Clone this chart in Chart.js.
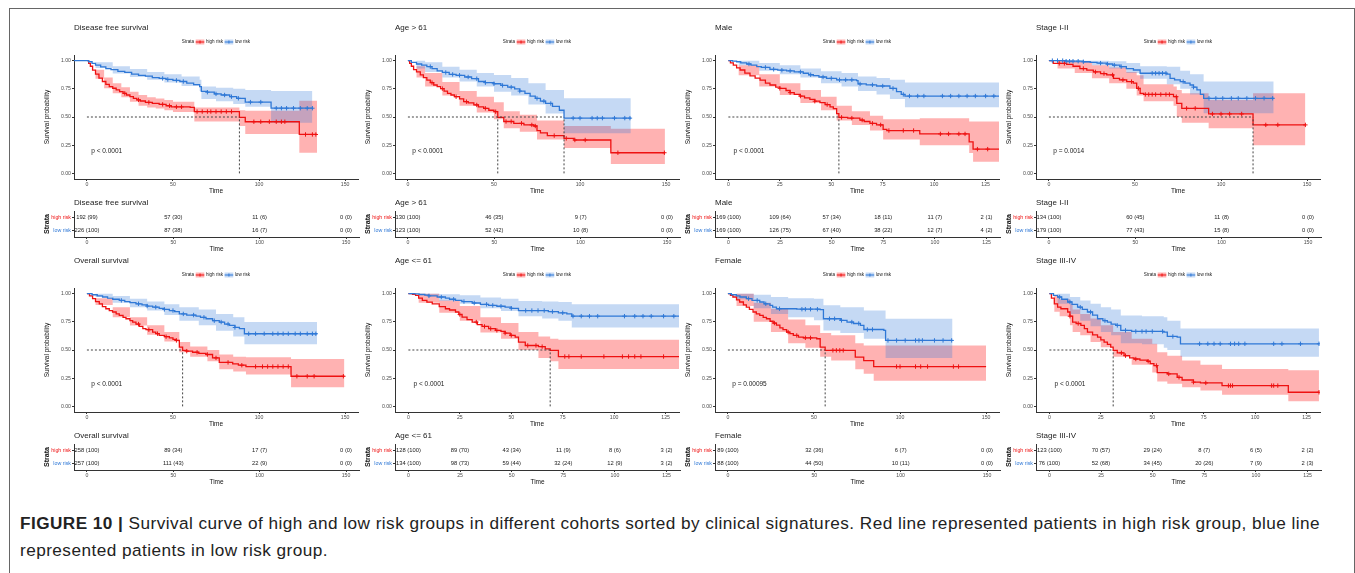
<!DOCTYPE html>
<html>
<head>
<meta charset="utf-8">
<script src="https://cdn.jsdelivr.net/npm/chart.js@4.4.0/dist/chart.umd.min.js"></script>
<style>
  body { margin: 0; background: #fff; width: 1355px; height: 573px; overflow: hidden; position: relative; font-family: 'Liberation Sans', Arial, sans-serif; }
  #frame { position: absolute; left: 9px; top: 8px; width: 1344px; height: 620px; border: 1px solid #666; border-bottom: none; }
  canvas { position: absolute; }
  #caption { position: absolute; left: 20px; top: 510px; font-size: 17.2px; letter-spacing: 0.45px; line-height: 26.5px; color: #222; white-space: nowrap; }
</style>
</head>
<body>
<div id="frame"></div>
<div id="caption"><b>FIGURE 10 |</b> Survival curve of high and low risk groups in different cohorts sorted by clinical signatures. Red line represented patients in high risk group, blue line<br>represented patients in low risk group.</div>
<script>
// axis ticks and limits
const ticks150 = [0, 50, 100, 150];
const ticks125 = [0, 25, 50, 75, 100, 125];
const range150 = [-7.5, 157.5];
const range125 = [-6.5, 131.5];
const yTicks = [0, 0.25, 0.5, 0.75, 1];
const groups = ['high risk', 'low risk'];
const pvalPos = [2.5, 0.2];

// curves are [time, survival], bands are [time, lower, upper]

// Disease free survival
const dfsHigh = [[0,1],[1,0.975],[2,0.95],[3.3,0.915],[5,0.88],[7,0.845],[9,0.815],[11,0.79],[13,0.77],[15,0.755],[17,0.74],[19,0.725],[21,0.71],[23,0.695],[25,0.68],[27,0.665],[29,0.652],[31,0.642],[34,0.63],[38,0.62],[42,0.612],[46,0.6],[49,0.59],[60,0.585],[62.4,0.548],[88.6,0.497],[92,0.458],[123.4,0.345],[133.7,0.345]];
const dfsHighBand = [[0,1,1],[5,0.84,0.92],[10,0.755,0.85],[15,0.71,0.8],[20,0.675,0.765],[25,0.635,0.725],[30,0.6,0.695],[35,0.585,0.675],[40,0.575,0.665],[45,0.56,0.65],[50,0.545,0.635],[62.4,0.46,0.585],[88.6,0.42,0.56],[92,0.35,0.555],[123.4,0.183,0.645],[133.7,0.183,0.645]];
const dfsHighCens = [22,30,36,44,48,52,55,64,67,70,72,75,78,81,84,97,101,106,110,113,115,127,131,133];
const dfsLow = [[-7.5,1],[0,1],[1,0.99],[3,0.975],[5,0.96],[8,0.945],[11,0.93],[14,0.92],[18,0.905],[22,0.895],[26,0.88],[30,0.87],[34,0.862],[38,0.85],[42,0.842],[46,0.833],[50,0.825],[54,0.815],[58,0.8],[62,0.787],[65.5,0.77],[66.5,0.728],[70,0.72],[74,0.705],[78,0.695],[83,0.68],[87,0.666],[92,0.632],[107,0.578],[131,0.578]];
const dfsLowBand = [[0,1,1],[5,0.935,0.985],[15,0.885,0.95],[25,0.855,0.925],[35,0.83,0.9],[45,0.805,0.88],[55,0.775,0.86],[65.5,0.73,0.83],[66.5,0.66,0.77],[75,0.64,0.76],[85,0.615,0.75],[92,0.59,0.74],[107,0.45,0.73],[131,0.45,0.73]];
const dfsLowCens = [44,47,52,56,70,75,80,84,88,95,101,110,113,116,120,124,128,131];
const dfsRiskHigh = ['192 (99)', '57 (30)', '11 (6)', '0 (0)'];
const dfsRiskLow = ['226 (100)', '87 (38)', '16 (7)', '0 (0)'];
const dfsMedians = [88.6];

// Age > 61
const ageOldHigh = [[0,1],[1,0.975],[2,0.95],[3.3,0.92],[5,0.9],[7.2,0.873],[9,0.85],[11,0.828],[13,0.805],[15,0.784],[17,0.77],[19,0.752],[21,0.73],[23,0.71],[25,0.695],[27,0.68],[30,0.66],[32.4,0.636],[35,0.625],[38.3,0.607],[41,0.59],[44,0.577],[47,0.56],[50,0.547],[52.2,0.497],[55.7,0.46],[61.5,0.444],[67.4,0.43],[73.2,0.42],[75,0.38],[77,0.36],[81,0.335],[90.7,0.31],[96.5,0.296],[117.9,0.183],[149.3,0.183]];
const ageOldHighBand = [[0,1,1],[5,0.85,0.95],[10,0.77,0.89],[20,0.69,0.81],[30,0.6,0.73],[40,0.54,0.68],[50,0.48,0.63],[55.7,0.4,0.55],[65,0.37,0.52],[75,0.3,0.47],[90.7,0.225,0.42],[117.9,0.083,0.395],[149.3,0.083,0.395]];
const ageOldHighCens = [14,20,28,34,40,45,51,57,60,66,72,74,85,92,97,103,122,149];
const ageOldLow = [[0,1],[2,0.985],[5,0.97],[8,0.96],[11,0.947],[14,0.93],[17,0.91],[20,0.895],[24,0.878],[28,0.87],[33,0.855],[37,0.84],[41,0.815],[45,0.805],[50,0.795],[54,0.78],[58,0.765],[62,0.75],[65,0.73],[68,0.71],[71,0.685],[74,0.665],[77,0.64],[80,0.62],[84,0.595],[88,0.56],[90.7,0.49],[129.5,0.49]];
const ageOldLowBand = [[0,1,1],[5,0.93,1],[10,0.9,0.985],[20,0.85,0.945],[30,0.815,0.92],[40,0.77,0.89],[50,0.725,0.873],[60,0.69,0.845],[70,0.61,0.8],[80,0.53,0.74],[90.7,0.355,0.666],[129.5,0.355,0.666]];
const ageOldLowCens = [13,22,26,30,35,40,45,50,55,60,65,75,79,83,96,100,107,110,113,120,126,129];
const ageOldRiskHigh = ['130 (100)', '46 (35)', '9 (7)', '0 (0)'];
const ageOldRiskLow = ['123 (100)', '52 (42)', '10 (8)', '0 (0)'];
const ageOldMedians = [52.2, 90.7];

// Male
const maleHigh = [[0,1],[1,0.98],[2.4,0.96],[4,0.935],[5.7,0.917],[8,0.89],[10.5,0.864],[13,0.845],[15.4,0.828],[18,0.8],[20.2,0.784],[23,0.765],[25,0.754],[28,0.735],[30,0.716],[32,0.7],[34.8,0.686],[37,0.67],[39.6,0.657],[42,0.64],[44.5,0.627],[47,0.61],[49.4,0.59],[51,0.575],[52.6,0.53],[53.7,0.497],[58,0.49],[63.9,0.473],[66,0.46],[68.8,0.444],[72,0.43],[75.2,0.39],[77,0.38],[93,0.35],[117,0.28],[118.9,0.215],[131.5,0.215]];
const maleHighBand = [[0,1,1],[5,0.87,0.96],[15,0.77,0.88],[25,0.695,0.8],[35,0.625,0.74],[45,0.56,0.68],[52.6,0.47,0.6],[60,0.43,0.55],[68.8,0.38,0.51],[75.2,0.3,0.48],[93,0.25,0.49],[117,0.18,0.46],[118.9,0.104,0.46],[131.5,0.104,0.46]];
const maleHighCens = [25,30,35,42,48,55,60,65,70,74,78,85,90,103,107,112,115,121,126];
const maleLow = [[0,1],[2,0.995],[4,0.99],[6,0.98],[8.9,0.97],[11,0.96],[13.8,0.947],[16,0.94],[20.2,0.923],[24,0.915],[28.3,0.91],[32,0.9],[36.4,0.888],[39,0.875],[41.3,0.867],[44,0.855],[47.7,0.843],[52.6,0.83],[62.3,0.822],[63,0.793],[67,0.785],[72,0.775],[78.5,0.754],[81.7,0.725],[84,0.7],[85.8,0.686],[131.5,0.686]];
const maleLowBand = [[0,1,1],[5,0.96,1],[15,0.91,0.98],[25,0.88,0.96],[35,0.85,0.93],[45,0.8,0.905],[55,0.77,0.89],[63,0.73,0.86],[72,0.7,0.845],[78.5,0.66,0.83],[85.8,0.586,0.805],[131.5,0.586,0.805]];
const maleLowCens = [10,18,22,26,30,35,40,46,50,54,57,60,64,70,75,80,85,88,92,95,104,108,112,116,120,125,129];
const maleRiskHigh = ['169 (100)', '109 (64)', '57 (34)', '18 (11)', '11 (7)', '2 (1)'];
const maleRiskLow = ['169 (100)', '126 (75)', '67 (40)', '38 (22)', '12 (7)', '4 (2)'];
const maleMedians = [53.7];

// Stage I-II
const stageEarlyHigh = [[0,1],[2.5,0.976],[10.3,0.967],[14,0.95],[18,0.93],[22,0.915],[25.8,0.9],[30,0.885],[33.6,0.873],[37.5,0.843],[41,0.83],[45.2,0.814],[49,0.8],[51,0.754],[53,0.71],[55,0.7],[72.4,0.68],[74.3,0.62],[77.2,0.577],[92.8,0.527],[118.6,0.43],[149,0.43]];
const stageEarlyHighBand = [[0,1,1],[5,0.93,1],[15,0.89,0.99],[25,0.843,0.96],[35,0.8,0.94],[45,0.75,0.9],[51,0.69,0.87],[55,0.64,0.79],[72.4,0.6,0.77],[74.3,0.5,0.74],[77.2,0.45,0.71],[92.8,0.4,0.65],[118.6,0.25,0.71],[149,0.25,0.71]];
const stageEarlyHighCens = [6,9,20,27,32,37,43,48,52,56,58,60,62,65,68,70,74,80,85,95,100,105,112,126,133,149];
const stageEarlyLow = [[0,1],[10,0.995],[20,0.99],[24,0.985],[28,0.978],[33.6,0.97],[37,0.96],[41.3,0.947],[45,0.93],[49.1,0.917],[53,0.888],[68.5,0.88],[70.4,0.843],[73,0.83],[76.3,0.814],[79,0.8],[82,0.784],[84,0.765],[86,0.74],[88,0.7],[89.9,0.666],[130.6,0.666]];
const stageEarlyLowBand = [[0,1,1],[10,0.98,1],[25,0.96,1],[35,0.93,0.995],[45,0.89,0.98],[53,0.84,0.95],[68.5,0.79,0.945],[76.3,0.75,0.91],[82,0.7,0.88],[89.9,0.533,0.814],[130.6,0.533,0.814]];
const stageEarlyLowCens = [2,5,8,10,12,14,17,20,30,34,38,42,60,62,64,66,68,78,84,93,97,101,106,110,115,120,125,130];
const stageEarlyRiskHigh = ['134 (100)', '60 (45)', '11 (8)', '0 (0)'];
const stageEarlyRiskLow = ['179 (100)', '77 (43)', '15 (8)', '0 (0)'];
const stageEarlyMedians = [118.6];

// Overall survival
const osHigh = [[0,1],[1.5,0.98],[3.3,0.955],[5,0.93],[7.2,0.91],[9,0.885],[11,0.866],[13,0.85],[14.9,0.837],[17,0.82],[18.8,0.807],[21,0.79],[22.7,0.777],[25,0.76],[26.6,0.748],[28.5,0.73],[30.4,0.709],[32.5,0.69],[34.3,0.68],[38.2,0.659],[40,0.645],[42,0.629],[45,0.618],[47.9,0.608],[50,0.595],[51.7,0.585],[53.7,0.525],[55.6,0.497],[58,0.49],[61.4,0.48],[65,0.47],[69.2,0.46],[73,0.43],[76.9,0.39],[84.7,0.377],[88,0.365],[92.4,0.353],[118.6,0.267],[149.6,0.267]];
const osHighBand = [[0,1,1],[5,0.9,0.96],[15,0.79,0.88],[25,0.718,0.79],[35,0.635,0.72],[45,0.575,0.66],[53.7,0.48,0.57],[60,0.44,0.53],[70,0.4,0.5],[76.9,0.33,0.46],[85,0.31,0.44],[92.4,0.282,0.436],[118.6,0.17,0.42],[149.6,0.17,0.42]];
const osHighCens = [30,36,41,46,52,58,64,70,75,82,90,98,102,105,108,111,114,117,122,128,132,149];
const osLow = [[0,1],[3,0.99],[6,0.98],[9.1,0.97],[12,0.96],[15,0.95],[18.8,0.94],[22,0.93],[25,0.92],[28.5,0.91],[32,0.9],[35,0.89],[38.2,0.88],[42,0.87],[45,0.86],[47.9,0.85],[51,0.84],[53.7,0.82],[58,0.81],[63.4,0.8],[66,0.79],[69.2,0.777],[73,0.76],[76.9,0.748],[80,0.73],[82.8,0.718],[86,0.7],[88.6,0.69],[91.5,0.644],[133.7,0.644]];
const osLowBand = [[0,1,1],[5,0.97,1],[15,0.92,0.98],[25,0.88,0.955],[35,0.85,0.93],[45,0.81,0.905],[53.7,0.76,0.88],[65,0.72,0.86],[75,0.67,0.82],[85,0.62,0.79],[91.5,0.55,0.748],[133.7,0.55,0.748]];
const osLowCens = [20,30,35,40,45,50,56,62,68,74,78,82,86,94,98,103,108,111,114,117,121,124,128,131,133];
const osRiskHigh = ['258 (100)', '89 (34)', '17 (7)', '0 (0)'];
const osRiskLow = ['257 (100)', '111 (43)', '22 (9)', '0 (0)'];
const osMedians = [55.6];

// Age <= 61
const ageYoungHigh = [[0,1],[2,0.993],[3.5,0.985],[5,0.96],[6.8,0.94],[9,0.925],[11.6,0.91],[15,0.885],[18,0.866],[20,0.855],[22.9,0.837],[24.5,0.815],[26.1,0.792],[28.5,0.77],[31,0.748],[33.5,0.725],[35.8,0.709],[39,0.69],[42.3,0.674],[45,0.665],[47,0.65],[49.5,0.63],[51.9,0.614],[53.5,0.57],[56.8,0.54],[63.2,0.53],[66.5,0.51],[68.9,0.496],[72.9,0.442],[131.5,0.442]];
const ageYoungHighBand = [[0,1,1],[5,0.92,1],[15,0.83,0.94],[25,0.76,0.89],[35,0.655,0.79],[45,0.6,0.74],[53.5,0.5,0.66],[63.2,0.43,0.62],[68.9,0.4,0.6],[72.9,0.332,0.59],[131.5,0.332,0.59]];
const ageYoungHighCens = [25,33,37,40,43,47,50,58,62,65,76,78,84,95,104,107,110,113,124];
const ageYoungLow = [[0,1],[3,0.997],[5.2,0.994],[8,0.987],[10,0.98],[14,0.97],[18,0.96],[20,0.95],[22.9,0.94],[26,0.93],[31,0.917],[35,0.905],[39,0.896],[43,0.888],[47,0.88],[50,0.87],[53.5,0.85],[68,0.84],[72.9,0.83],[77,0.82],[79.4,0.8],[131.5,0.8]];
const ageYoungLowBand = [[0,1,1],[5,0.98,1],[15,0.935,0.995],[25,0.91,0.985],[35,0.87,0.965],[45,0.845,0.955],[53.5,0.8,0.935],[65,0.78,0.93],[72.9,0.76,0.925],[79.4,0.7,0.905],[131.5,0.7,0.905]];
const ageYoungLowCens = [10,16,22,27,32,38,41,45,50,57,60,63,66,70,75,80,84,88,92,105,110,114,118,124,129];
const ageYoungRiskHigh = ['128 (100)', '89 (70)', '43 (34)', '11 (9)', '8 (6)', '3 (2)'];
const ageYoungRiskLow = ['134 (100)', '98 (73)', '59 (44)', '32 (24)', '12 (9)', '3 (2)'];
const ageYoungMedians = [68.9];

// Female
const femaleHigh = [[0,1],[1.5,0.985],[2.9,0.97],[5,0.945],[6.8,0.926],[9,0.9],[10.7,0.88],[12.5,0.86],[14.6,0.837],[16.5,0.82],[18.5,0.807],[20.5,0.79],[22.4,0.777],[24.5,0.755],[26.3,0.739],[28.2,0.72],[30.2,0.697],[32,0.68],[34.1,0.659],[36,0.645],[38,0.629],[41,0.615],[43.8,0.608],[51.6,0.6],[53.6,0.525],[56.5,0.497],[74,0.436],[78.9,0.406],[84.7,0.353],[150,0.353]];
const femaleHighBand = [[0,1,1],[5,0.89,1],[15,0.75,0.92],[25,0.66,0.866],[35,0.56,0.77],[45,0.52,0.72],[53.6,0.44,0.65],[60,0.406,0.63],[74,0.33,0.56],[78.9,0.29,0.54],[84.7,0.228,0.54],[150,0.228,0.54]];
const femaleHighCens = [27,35,40,45,48,61,63,65,67,98,100,109,112,116,131,134];
const femaleLow = [[0,1],[2,0.99],[4.9,0.98],[7,0.97],[10.7,0.955],[14,0.94],[18.5,0.926],[21,0.91],[24.4,0.896],[26,0.88],[28.2,0.866],[40,0.862],[53.6,0.858],[55.5,0.777],[65.3,0.763],[69.2,0.748],[73,0.735],[77,0.718],[79,0.682],[90.6,0.674],[91.6,0.585],[130.5,0.585]];
const femaleLowBand = [[0,1,1],[5,0.95,1],[15,0.87,0.99],[25,0.82,0.97],[35,0.79,0.96],[50,0.763,0.955],[55.5,0.674,0.896],[65.3,0.65,0.88],[79,0.6,0.85],[91.6,0.43,0.777],[130.5,0.43,0.777]];
const femaleLowCens = [12,17,22,30,43,45,48,52,59,62,66,72,76,81,84,93,98,103,109,111,113,120,125,130];
const femaleRiskHigh = ['89 (100)', '32 (36)', '6 (7)', '0 (0)'];
const femaleRiskLow = ['88 (100)', '44 (50)', '10 (11)', '0 (0)'];
const femaleMedians = [56.5];

// Stage III-IV
const stageLateHigh = [[0,1],[1,0.96],[2.4,0.91],[4,0.88],[5.6,0.866],[8.9,0.837],[10,0.8],[11.3,0.748],[13,0.735],[15.3,0.718],[17,0.69],[18.5,0.659],[21,0.635],[23.4,0.614],[25,0.59],[26.6,0.57],[28.2,0.55],[29.8,0.525],[31,0.496],[33,0.475],[36.3,0.45],[39,0.43],[41.1,0.42],[44,0.41],[47.6,0.4],[49,0.38],[50.8,0.362],[52.4,0.3],[57.3,0.288],[62.1,0.258],[64.5,0.234],[70,0.215],[73.4,0.208],[83.9,0.184],[116.1,0.125],[131,0.125]];
const stageLateHighBand = [[0,1,1],[2.4,0.84,0.98],[5,0.8,0.95],[10,0.72,0.91],[11.3,0.66,0.86],[15,0.63,0.82],[20,0.57,0.78],[25,0.525,0.72],[31,0.44,0.66],[40,0.37,0.6],[50,0.3,0.555],[52.4,0.22,0.48],[57.3,0.2,0.45],[64.5,0.17,0.406],[73.4,0.14,0.37],[83.9,0.104,0.332],[116.1,0.045,0.32],[131,0.045,0.32]];
const stageLateHighCens = [10,14,35,37,42,48,52,58,63,70,76,87,88,89,108,109,111,131];
const stageLateLow = [[0,1],[2,0.985],[4,0.97],[6,0.95],[8.9,0.926],[11,0.905],[13.7,0.88],[16,0.86],[18.5,0.837],[21,0.81],[23.4,0.777],[26,0.76],[28.2,0.748],[30,0.73],[32.3,0.718],[34.7,0.674],[40,0.665],[55.6,0.659],[57.3,0.62],[62.1,0.614],[63.7,0.555],[131,0.555]];
const stageLateLowBand = [[0,1,1],[4,0.91,1],[10,0.82,0.97],[15,0.76,0.94],[20,0.71,0.91],[25,0.66,0.88],[30,0.63,0.86],[34.7,0.56,0.807],[45,0.55,0.8],[55.6,0.52,0.79],[57.3,0.5,0.76],[63.7,0.44,0.69],[131,0.44,0.69]];
const stageLateLowCens = [5,10,15,20,27,33,37,42,45,47,50,55,60,73,77,80,83,88,90,92,95,109,113,122,131];
const stageLateRiskHigh = ['123 (100)', '70 (57)', '29 (24)', '8 (7)', '6 (5)', '2 (2)'];
const stageLateRiskLow = ['76 (100)', '52 (68)', '34 (45)', '20 (26)', '7 (9)', '2 (3)'];
const stageLateMedians = [31];

const panels = [
  { title: 'Disease free survival', p: 'p < 0.0001', ticks: ticks150, range: range150, high: dfsHigh, highBand: dfsHighBand, highCens: dfsHighCens, low: dfsLow, lowBand: dfsLowBand, lowCens: dfsLowCens, riskHigh: dfsRiskHigh, riskLow: dfsRiskLow, medians: dfsMedians },
  { title: 'Age > 61', p: 'p < 0.0001', ticks: ticks150, range: range150, high: ageOldHigh, highBand: ageOldHighBand, highCens: ageOldHighCens, low: ageOldLow, lowBand: ageOldLowBand, lowCens: ageOldLowCens, riskHigh: ageOldRiskHigh, riskLow: ageOldRiskLow, medians: ageOldMedians },
  { title: 'Male', p: 'p < 0.0001', ticks: ticks125, range: range125, high: maleHigh, highBand: maleHighBand, highCens: maleHighCens, low: maleLow, lowBand: maleLowBand, lowCens: maleLowCens, riskHigh: maleRiskHigh, riskLow: maleRiskLow, medians: maleMedians },
  { title: 'Stage I-II', p: 'p = 0.0014', ticks: ticks150, range: range150, high: stageEarlyHigh, highBand: stageEarlyHighBand, highCens: stageEarlyHighCens, low: stageEarlyLow, lowBand: stageEarlyLowBand, lowCens: stageEarlyLowCens, riskHigh: stageEarlyRiskHigh, riskLow: stageEarlyRiskLow, medians: stageEarlyMedians },
  { title: 'Overall survival', p: 'p < 0.0001', ticks: ticks150, range: range150, high: osHigh, highBand: osHighBand, highCens: osHighCens, low: osLow, lowBand: osLowBand, lowCens: osLowCens, riskHigh: osRiskHigh, riskLow: osRiskLow, medians: osMedians },
  { title: 'Age <= 61', p: 'p < 0.0001', ticks: ticks125, range: range125, high: ageYoungHigh, highBand: ageYoungHighBand, highCens: ageYoungHighCens, low: ageYoungLow, lowBand: ageYoungLowBand, lowCens: ageYoungLowCens, riskHigh: ageYoungRiskHigh, riskLow: ageYoungRiskLow, medians: ageYoungMedians },
  { title: 'Female', p: 'p = 0.00095', ticks: ticks150, range: range150, high: femaleHigh, highBand: femaleHighBand, highCens: femaleHighCens, low: femaleLow, lowBand: femaleLowBand, lowCens: femaleLowCens, riskHigh: femaleRiskHigh, riskLow: femaleRiskLow, medians: femaleMedians },
  { title: 'Stage III-IV', p: 'p < 0.0001', ticks: ticks125, range: range125, high: stageLateHigh, highBand: stageLateHighBand, highCens: stageLateHighCens, low: stageLateLow, lowBand: stageLateLowBand, lowCens: stageLateLowCens, riskHigh: stageLateRiskHigh, riskLow: stageLateRiskLow, medians: stageLateMedians },
];

const RED = '#ee1111', BLUE = '#2f78d6';
const RED_FILL = 'rgba(255,0,0,0.3)', BLUE_FILL = 'rgba(47,120,214,0.28)';
const FONT = "'Liberation Sans', Arial, sans-serif";

Chart.defaults.font.family = FONT;
Chart.defaults.color = '#333';

// survival value of a step curve at time t
function survAt(curve, t) {
  let s = curve[0][1];
  for (const [ti, si] of curve) {
    if (ti <= t) s = si; else break;
  }
  return s;
}

function addCanvas(left, top, w, h) {
  const cv = document.createElement('canvas');
  cv.width = w; cv.height = h;
  cv.style.left = left + 'px';
  cv.style.top = top + 'px';
  cv.style.width = w + 'px';
  cv.style.height = h + 'px';
  document.body.appendChild(cv);
  return cv;
}

function drawLegend(ctx, cx, cy) {
  ctx.font = '4.6px ' + FONT;
  const items = [['t', 'Strata'], ['s', RED, RED_FILL], ['t', 'high risk'], ['s', BLUE, BLUE_FILL], ['t', 'low risk']];
  const gap = 1.6, swW = 8.6, swH = 5;
  const widths = items.map(it => it[0] === 't' ? ctx.measureText(it[1]).width : swW);
  let x = cx - (widths.reduce((a, b) => a + b, 0) + gap * (items.length - 1)) / 2;
  items.forEach((it, i) => {
    if (it[0] === 't') {
      ctx.fillStyle = '#222';
      ctx.fillText(it[1], x, cy);
    } else {
      ctx.fillStyle = it[2];
      ctx.fillRect(x, cy - swH / 2, swW, swH);
      ctx.strokeStyle = it[1];
      ctx.lineWidth = 1;
      ctx.beginPath();
      ctx.moveTo(x, cy); ctx.lineTo(x + swW, cy);
      ctx.moveTo(x + swW / 2, cy - 1.5); ctx.lineTo(x + swW / 2, cy + 1.5);
      ctx.stroke();
    }
    x += widths[i] + gap;
  });
}

// titles, legend and p value of a survival plot
Chart.register({
  id: 'kmDecor',
  afterDraw(chart, args, o) {
    if (!o || !o.title) return;
    const {ctx, chartArea: a, scales} = chart;
    ctx.save();
    ctx.textBaseline = 'middle';
    ctx.textAlign = 'left';
    ctx.fillStyle = '#222';
    ctx.font = '8px ' + FONT;
    ctx.fillText(o.title, a.left, a.top - 27);
    ctx.font = '6.5px ' + FONT;
    ctx.fillText(o.pval, scales.x.getPixelForValue(pvalPos[0]), scales.y.getPixelForValue(pvalPos[1]));
    drawLegend(ctx, (a.left + a.right) / 2, a.top - 13);
    ctx.restore();
  }
});

// numbers at risk, written at each point of the table datasets
Chart.register({
  id: 'riskText',
  afterDatasetsDraw(chart, args, o) {
    if (!o || !o.title) return;
    const {ctx, chartArea: a} = chart;
    ctx.save();
    ctx.textBaseline = 'middle';
    ctx.fillStyle = '#222';
    ctx.textAlign = 'left';
    ctx.font = '8px ' + FONT;
    ctx.fillText(o.title, a.left, a.top - 8);
    ctx.textAlign = 'center';
    ctx.font = '5.8px ' + FONT;
    chart.data.datasets.forEach((ds, i) => {
      chart.getDatasetMeta(i).data.forEach((pt, j) => ctx.fillText(ds.texts[j], pt.x, pt.y));
    });
    ctx.restore();
  }
});

function axisX(p) {
  return {
    type: 'linear', min: p.range[0], max: p.range[1],
    afterFit: s => { s.height = 16; },
    afterBuildTicks: s => { s.ticks = p.ticks.map(v => ({value: v})); },
    grid: { drawOnChartArea: false, drawTicks: true, tickLength: 2, color: '#333' },
    border: { color: '#333', width: 1 },
    ticks: { font: { size: 5.2 }, color: '#4d4d4d', padding: 0, maxRotation: 0, autoSkip: false, callback: v => String(v) },
    title: { display: true, text: 'Time', font: { size: 6.5 }, color: '#111', padding: { top: 0, bottom: 0 } }
  };
}

function kmChart(p, row, col) {
  const left = Math.round(74.3 + 320.4 * col);
  const cv = addCanvas(left - 40, 18 + row * 233, 329, 177);
  const datasets = [];
  const addGroup = (curve, band, cens, color, fill) => {
    datasets.push({ data: band.map(b => ({x: b[0], y: b[2]})), stepped: true, borderWidth: 0, pointRadius: 0, fill: false, order: 3 });
    datasets.push({ data: band.map(b => ({x: b[0], y: b[1]})), stepped: true, borderWidth: 0, pointRadius: 0, fill: '-1', backgroundColor: fill, order: 3 });
    datasets.push({ data: curve.map(c => ({x: c[0], y: c[1]})), stepped: true, borderColor: color, borderWidth: 1.3, pointRadius: 0, fill: false, order: 1 });
    datasets.push({ data: cens.map(t => ({x: t, y: survAt(curve, t)})), showLine: false, pointStyle: 'cross', pointRadius: 2.2, borderColor: color, borderWidth: 1, order: 0 });
  };
  addGroup(p.low, p.lowBand, p.lowCens, BLUE, BLUE_FILL);
  addGroup(p.high, p.highBand, p.highCens, RED, RED_FILL);

  const dash = { borderColor: '#444', borderDash: [2, 2], borderWidth: 1, pointRadius: 0, fill: false, order: 0 };
  datasets.push(Object.assign({ data: [{x: 0, y: 0.5}, {x: Math.max(...p.medians), y: 0.5}] }, dash));
  p.medians.forEach(m => datasets.push(Object.assign({ data: [{x: m, y: 0}, {x: m, y: 0.5}] }, dash)));

  new Chart(cv, {
    type: 'line',
    data: { datasets },
    options: {
      responsive: false, animation: false, events: [],
      layout: { padding: { top: 37, right: 4, left: 0, bottom: 0 } },
      plugins: { legend: { display: false }, tooltip: { enabled: false }, kmDecor: { title: p.title, pval: p.p } },
      scales: {
        x: axisX(p),
        y: {
          type: 'linear', min: -0.05, max: 1.05,
          afterFit: s => { s.width = 40; },
          afterBuildTicks: s => { s.ticks = yTicks.map(v => ({value: v})); },
          grid: { drawOnChartArea: false, drawTicks: true, tickLength: 2, color: '#333' },
          border: { color: '#333', width: 1 },
          ticks: { font: { size: 5.2 }, color: '#4d4d4d', padding: 1, callback: v => v.toFixed(2) },
          title: { display: true, text: 'Survival probability', font: { size: 6.5 }, color: '#111', padding: { top: 9.5, bottom: 0 } }
        }
      }
    }
  });
}

function riskChart(p, row, col) {
  const left = Math.round(74.3 + 320.4 * col);
  const cv = addCanvas(left - 40, 196 + row * 233, 329, 57);
  const datasets = [p.riskHigh, p.riskLow].map((texts, g) => ({
    data: p.ticks.map(t => ({x: t, y: groups[g]})),
    texts: texts, showLine: false, pointRadius: 0
  }));
  new Chart(cv, {
    type: 'line',
    data: { datasets },
    options: {
      responsive: false, animation: false, events: [],
      layout: { padding: { top: 15, right: 4, left: 0, bottom: 0 } },
      plugins: { legend: { display: false }, tooltip: { enabled: false }, riskText: { title: p.title } },
      scales: {
        x: axisX(p),
        y: {
          type: 'category', labels: groups, offset: true,
          afterFit: s => { s.width = 40; },
          grid: { drawOnChartArea: false, drawTicks: true, tickLength: 2, color: '#333', offset: false },
          border: { color: '#333', width: 1 },
          ticks: { font: { size: 5.3 }, color: c => c.index === 0 ? RED : BLUE, padding: 1 },
          title: { display: true, text: 'Strata', font: { size: 7, weight: 'bold' }, color: '#111', padding: { top: 8.5, bottom: 0 } }
        }
      }
    }
  });
}

panels.forEach((p, i) => {
  const row = Math.floor(i / 4), col = i % 4;
  kmChart(p, row, col);
  riskChart(p, row, col);
});
</script>
</body>
</html>
